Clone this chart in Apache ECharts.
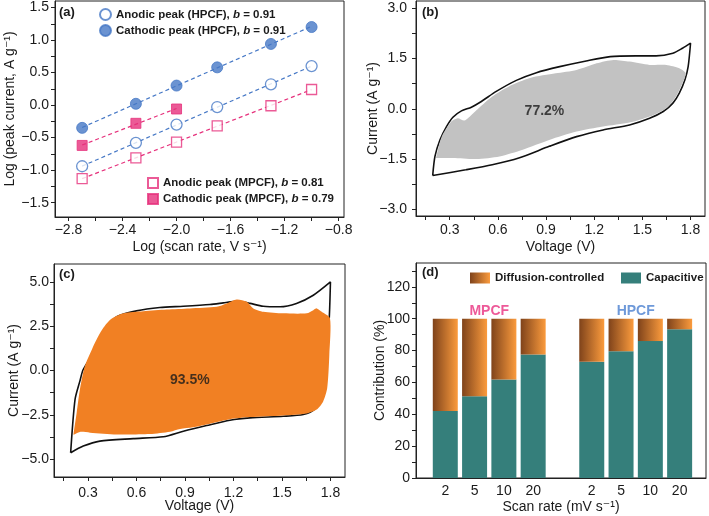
<!DOCTYPE html>
<html><head><meta charset="utf-8">
<script src="https://cdn.jsdelivr.net/npm/echarts@6/dist/echarts.min.js"></script>
<style>html,body{margin:0;padding:0;background:#fff}#c{width:709px;height:516px}</style>
</head><body><div id="c"></div>
<script>
const FONT = '"Liberation Sans", Arial, "DejaVu Sans", sans-serif';
const INK = '#1a1a1a';
const BLUE = '#4678c6';
const PINK = '#e6317c';

// ---------- Panel (a) ----------
const logScanRate = [-2.699, -2.301, -2.0, -1.699, -1.301, -1.0];
const anodicHPCF = [-0.94, -0.58, -0.30, -0.03, 0.32, 0.60];
const cathodicHPCF = [-0.35, 0.02, 0.30, 0.58, 0.94, 1.20];
const anodicMPCF = [-1.13, -0.81, -0.57, -0.32, -0.01, 0.24];
const cathodicMPCF = [-0.62, -0.28, -0.06];
const aNames = ['Anodic peak (HPCF)', 'Cathodic peak (HPCF)', 'Anodic peak (MPCF)', 'Cathodic peak (MPCF)'];
const aBValues = ['0.91', '0.91', '0.81', '0.79'];
const aXLabels = [-2.8, -2.4, -2.0, -1.6, -1.2, -0.8];
const aYLabels = [-1.5, -1.0, -0.5, 0, 0.5, 1.0, 1.5];

// ---------- Panel (b) ----------
const bLoopV = [0.194, 0.208, 0.239, 0.28, 0.32, 0.373, 0.435, 0.497, 0.59, 0.715, 0.84, 0.985, 1.15, 1.3, 1.46, 1.585, 1.69, 1.75, 1.80, 1.785, 1.765, 1.73, 1.69, 1.63, 1.545, 1.42, 1.255, 1.09, 0.92, 0.73, 0.565, 0.4, 0.194];
const bLoopI = [-1.99, -1.42, -0.93, -0.53, -0.25, -0.06, 0.05, 0.22, 0.52, 0.85, 1.08, 1.26, 1.43, 1.56, 1.58, 1.58, 1.66, 1.81, 1.96, 1.26, 0.87, 0.47, 0.17, -0.08, -0.28, -0.48, -0.63, -0.83, -1.12, -1.47, -1.67, -1.82, -1.99];
const bCapV = [0.214, 0.25, 0.31, 0.35, 0.39, 0.42, 0.48, 0.565, 0.669, 0.8, 0.96, 1.09, 1.215, 1.32, 1.42, 1.545, 1.65, 1.73, 1.77, 1.75, 1.71, 1.65, 1.545, 1.42, 1.255, 1.09, 0.92, 0.755, 0.61, 0.466, 0.32, 0.214];
const bCapI = [-1.47, -0.83, -0.38, -0.28, -0.35, -0.25, 0.02, 0.37, 0.67, 0.92, 1.06, 1.16, 1.36, 1.46, 1.41, 1.31, 1.31, 1.21, 1.06, 0.77, 0.37, 0.02, -0.23, -0.41, -0.53, -0.68, -0.93, -1.22, -1.42, -1.5, -1.47, -1.47];
const bCapText = '77.2%';
const bCapTextPos = [0.89, -0.08];
const bXLabels = [0.3, 0.6, 0.9, 1.2, 1.5, 1.8];
const bYLabels = [-3.0, -1.5, 0, 1.5, 3.0];

// ---------- Panel (c) ----------
const cLoopV = [0.193, 0.22, 0.25, 0.27, 0.313, 0.36, 0.42, 0.478, 0.6, 0.745, 0.89, 1.055, 1.137, 1.2, 1.26, 1.302, 1.384, 1.488, 1.59, 1.694, 1.8, 1.793, 1.78, 1.76, 1.73, 1.70, 1.632, 1.508, 1.302, 1.178, 1.034, 0.89, 0.766, 0.58, 0.374, 0.271, 0.193];
const cLoopI = [-4.63, -1.64, -0.6, 0.04, 0.69, 1.6, 2.5, 3.03, 3.36, 3.55, 3.62, 3.72, 3.81, 3.88, 3.85, 3.78, 3.62, 3.59, 3.78, 4.24, 4.99, 3.03, 1.5, 0, -1.5, -2.2, -2.48, -2.58, -2.67, -2.8, -3.1, -3.42, -3.73, -3.84, -3.98, -4.26, -4.63];
const cCapV = [0.21, 0.23, 0.25, 0.28, 0.323, 0.374, 0.436, 0.519, 0.642, 0.787, 0.93, 1.096, 1.158, 1.22, 1.282, 1.323, 1.385, 1.508, 1.653, 1.694, 1.715, 1.746, 1.797, 1.793, 1.78, 1.755, 1.715, 1.653, 1.508, 1.302, 1.178, 1.034, 0.95, 0.87, 0.808, 0.684, 0.478, 0.313, 0.25, 0.21];
const cCapI = [-3.62, -2.39, -1.08, 0.22, 1.16, 2.1, 2.84, 3.22, 3.34, 3.44, 3.5, 3.59, 3.78, 4.0, 3.87, 3.5, 3.31, 3.22, 3.22, 3.4, 3.5, 3.31, 2.94, 0.88, -0.99, -1.74, -2.2, -2.42, -2.53, -2.62, -2.74, -3.04, -3.2, -3.3, -3.45, -3.58, -3.6, -3.5, -3.46, -3.62];
const cCapText = '93.5%';
const cCapTextPos = [0.93, -0.52];
const cXLabels = [0.3, 0.6, 0.9, 1.2, 1.5, 1.8];
const cYLabels = [-5.0, -2.5, 0, 2.5, 5.0];

// ---------- Panel (d) ----------
const dRates = ['2', '5', '10', '20'];
const capacitiveMPCF = [42, 51.3, 61.8, 77.5];
const diffusionMPCF = [58, 48.7, 38.2, 22.5];
const capacitiveHPCF = [73, 79.6, 86, 93.4];
const diffusionHPCF = [27, 20.4, 14, 6.6];
const dYLabels = [0, 20, 40, 60, 80, 100, 120];

// ---------- helpers ----------
const fmt1 = v => (v < 0 ? '\u2212' : '') + Math.abs(v).toFixed(1);
function withMids(labels, before, after) {
  const out = [];
  const step = labels[1] - labels[0];
  if (before) out.push(+(labels[0] - step / 2).toFixed(4));
  labels.forEach((v, i) => { out.push(v); if (i < labels.length - 1) out.push(+((v + labels[i + 1]) / 2).toFixed(4)); });
  if (after) out.push(+(labels[labels.length - 1] + step / 2).toFixed(4));
  return out;
}
function axis(o) {
  return {
    type: 'value', gridIndex: o.grid, min: o.min, max: o.max,
    name: o.name, nameLocation: 'middle', nameGap: o.nameGap, nameMoveOverlap: false,
    nameTextStyle: { fontFamily: FONT, fontSize: 14, color: INK },
    axisLine: { show: true, onZero: false, lineStyle: { color: '#222', width: 1 } },
    axisTick: { show: o.ticks !== false, length: 4, customValues: o.ticks || [], lineStyle: { color: '#222', width: 1 } },
    axisLabel: { customValues: o.labels, formatter: o.fmt, margin: o.margin, fontFamily: FONT, fontSize: 14, color: INK, hideOverlap: false },
    splitLine: { show: false }
  };
}
function fitLine(xs, ys) {
  const n = ys.length, x = xs.slice(0, n);
  const mx = x.reduce((a, b) => a + b, 0) / n, my = ys.reduce((a, b) => a + b, 0) / n;
  let sxy = 0, sxx = 0;
  for (let i = 0; i < n; i++) { sxy += (x[i] - mx) * (ys[i] - my); sxx += (x[i] - mx) ** 2; }
  const k = sxy / sxx, b0 = my - k * mx;
  return [[x[0], b0 + k * x[0]], [x[n - 1], b0 + k * x[n - 1]]];
}
const pairs = (xs, ys) => ys.map((y, i) => [xs[i], y]);
function polySeries(xs, ys, fill, idx) {
  const pts = pairs(xs, ys);
  return {
    type: 'custom', xAxisIndex: idx, yAxisIndex: idx, data: [pts[0]], z: 3, silent: true,
    renderItem: (p, api) => ({ type: 'polygon', shape: { points: pts.map(q => api.coord(q)), smooth: 0.25 }, style: { fill: fill } })
  };
}
function loopSeries(xs, ys, idx) {
  return { type: 'line', xAxisIndex: idx, yAxisIndex: idx, data: pairs(xs, ys), smooth: 0.25, symbol: 'none', z: 2,
    lineStyle: { color: '#111', width: 1.6 } };
}
function textPoint(pos, text, idx, color, size) {
  return { type: 'scatter', xAxisIndex: idx, yAxisIndex: idx, data: [pos], symbolSize: 0, z: 10, silent: true,
    label: { show: true, position: 'inside', formatter: text, fontFamily: FONT, fontWeight: 'bold', fontSize: size, color: color } };
}
function scatterSeries(name, ys, color, symbol, open, size) {
  return { name, type: 'scatter', xAxisIndex: 0, yAxisIndex: 0, data: pairs(logScanRate, ys), symbol, symbolSize: size, z: 5,
    itemStyle: open ? { color: '#fff', borderColor: color, borderWidth: 1.3 } : { color: color, borderColor: color, borderWidth: 1 } };
}
function dashSeries(ys, color) {
  return { type: 'line', xAxisIndex: 0, yAxisIndex: 0, data: fitLine(logScanRate, ys), symbol: 'none', z: 4,
    lineStyle: { color: color, width: 1.2, type: [4, 3] } };
}

const dPos = [1, 2, 3, 4, 6, 7, 8, 9];
const dLabels = dRates.concat(dRates);
const capAll = capacitiveMPCF.concat(capacitiveHPCF);
const diffAll = diffusionMPCF.concat(diffusionHPCF);
const diffGrad = new echarts.graphic.LinearGradient(0, 0, 1, 0, [{ offset: 0, color: '#7f431b' }, { offset: 1, color: '#fb9b3d' }]);
const TEAL = '#357f7b';
const BAR_W = 25;
function barSeries(name, rows, color) {
  return {
    name, type: 'custom', xAxisIndex: 3, yAxisIndex: 3, data: rows, encode: { x: 0, y: [1, 2] }, itemStyle: { color: color },
    renderItem: (p, api) => {
      const b = api.coord([api.value(0), api.value(1)]);
      const t = api.coord([api.value(0), api.value(2)]);
      return { type: 'rect', shape: { x: b[0] - BAR_W / 2, y: t[1], width: BAR_W, height: b[1] - t[1] }, style: { fill: color } };
    }
  };
}

const legendText = { fontFamily: FONT, fontSize: 11.5, fontWeight: 'bold', color: INK,
  rich: { i: { fontFamily: FONT, fontSize: 11.5, fontWeight: 'bold', fontStyle: 'italic', color: INK } } };
const legendFmt = name => name + ', {i|b} = ' + aBValues[aNames.indexOf(name)];

const gridBase = { show: true, borderColor: '#222', borderWidth: 1, outerBoundsMode: 'none', containLabel: false };

const option = {
  animation: false,
  textStyle: { fontFamily: FONT },
  grid: [
    Object.assign({ left: 55, top: 1, width: 289, height: 216 }, gridBase),
    Object.assign({ left: 416, top: 1, width: 289, height: 215 }, gridBase),
    Object.assign({ left: 54, top: 264, width: 291, height: 213 }, gridBase),
    Object.assign({ left: 416, top: 263, width: 290, height: 215 }, gridBase)
  ],
  xAxis: [
    axis({ grid: 0, min: -2.9, max: -0.76, labels: aXLabels, ticks: withMids(aXLabels), fmt: fmt1, name: 'Log (scan rate, V s\u207B\u00B9)', nameGap: 23, margin: 6 }),
    axis({ grid: 1, min: 0.09, max: 1.89, labels: bXLabels, ticks: withMids(bXLabels, true), fmt: fmt1, name: 'Voltage (V)', nameGap: 24, margin: 7 }),
    axis({ grid: 2, min: 0.09, max: 1.89, labels: cXLabels, ticks: withMids(cXLabels, true), fmt: fmt1, name: 'Voltage (V)', nameGap: 22, margin: 9 }),
    axis({ grid: 3, min: 0, max: 9.9, labels: dPos, ticks: false, fmt: v => dLabels[dPos.indexOf(v)], name: 'Scan rate (mV s\u207B\u00B9)', nameGap: 22, margin: 6 })
  ],
  yAxis: [
    axis({ grid: 0, min: -1.72, max: 1.6, labels: aYLabels, ticks: withMids(aYLabels), fmt: fmt1, name: 'Log (peak current, A g\u207B\u00B9)', nameGap: 38, margin: 6 }),
    axis({ grid: 1, min: -3.2, max: 3.22, labels: bYLabels, ticks: withMids(bYLabels), fmt: fmt1, name: 'Current (A g\u207B\u00B9)', nameGap: 36, margin: 9 }),
    axis({ grid: 2, min: -6, max: 6, labels: cYLabels, ticks: withMids(cYLabels), fmt: fmt1, name: 'Current (A g\u207B\u00B9)', nameGap: 33, margin: 5 }),
    axis({ grid: 3, min: 0, max: 135, labels: dYLabels, ticks: withMids(dYLabels, false, true), fmt: v => String(v), name: 'Contribution (%)', nameGap: 29, margin: 6 })
  ],
  legend: [
    { data: [aNames[0], aNames[1]], orient: 'vertical', left: 99, top: 8, padding: 0, itemGap: 3, itemWidth: 11, itemHeight: 11,
      selectedMode: false, textStyle: legendText, formatter: legendFmt },
    { data: [aNames[2], aNames[3]], orient: 'vertical', left: 147, top: 177, padding: 0, itemGap: 4, itemWidth: 10, itemHeight: 10,
      selectedMode: false, textStyle: legendText, formatter: legendFmt },
    { data: [{ name: 'Diffusion-controlled', icon: 'rect' }], left: 470, top: 272, padding: 0,
      itemWidth: 20, itemHeight: 11, selectedMode: false, textStyle: { fontFamily: FONT, fontSize: 11.5, fontWeight: 'bold', color: INK } },
    { data: [{ name: 'Capacitive', icon: 'rect' }], left: 621, top: 272, padding: 0,
      itemWidth: 20, itemHeight: 11, selectedMode: false, textStyle: { fontFamily: FONT, fontSize: 11.5, fontWeight: 'bold', color: INK } }
  ],
  graphic: [
    { type: 'text', left: 59, top: 6, style: { text: '(a)', font: 'bold 13px ' + FONT, fill: INK } },
    { type: 'text', left: 422, top: 6, style: { text: '(b)', font: 'bold 13px ' + FONT, fill: INK } },
    { type: 'text', left: 59, top: 268, style: { text: '(c)', font: 'bold 13px ' + FONT, fill: INK } },
    { type: 'text', left: 422, top: 266, style: { text: '(d)', font: 'bold 13px ' + FONT, fill: INK } }
  ],
  series: [
    // (a)
    dashSeries(cathodicHPCF, BLUE),
    dashSeries(anodicHPCF, BLUE),
    dashSeries(anodicMPCF, PINK),
    dashSeries(cathodicMPCF, PINK),
    scatterSeries(aNames[0], anodicHPCF, BLUE, 'circle', true, 11),
    scatterSeries(aNames[1], cathodicHPCF, BLUE, 'circle', false, 11),
    scatterSeries(aNames[2], anodicMPCF, PINK, 'rect', true, 10),
    scatterSeries(aNames[3], cathodicMPCF, PINK, 'rect', false, 10),
    // (b)
    loopSeries(bLoopV, bLoopI, 1),
    polySeries(bCapV, bCapI, '#c2c2c2', 1),
    textPoint(bCapTextPos, bCapText, 1, INK, 14),
    // (c)
    loopSeries(cLoopV, cLoopI, 2),
    polySeries(cCapV, cCapI, '#f18023', 2),
    textPoint(cCapTextPos, cCapText, 2, INK, 14),
    // (d)
    barSeries('Capacitive', dPos.map((x, i) => [x, 0, capAll[i]]), TEAL),
    barSeries('Diffusion-controlled', dPos.map((x, i) => [x, capAll[i], capAll[i] + diffAll[i]]), diffGrad),
    textPoint([2.5, 104.5], 'MPCF', 3, '#e8307e', 14),
    textPoint([7.5, 104.5], 'HPCF', 3, '#4a7fd0', 14)
  ]
};
const chart = echarts.init(document.getElementById('c'), null, { renderer: 'canvas' });
chart.setOption(option);
</script>
</body></html>
